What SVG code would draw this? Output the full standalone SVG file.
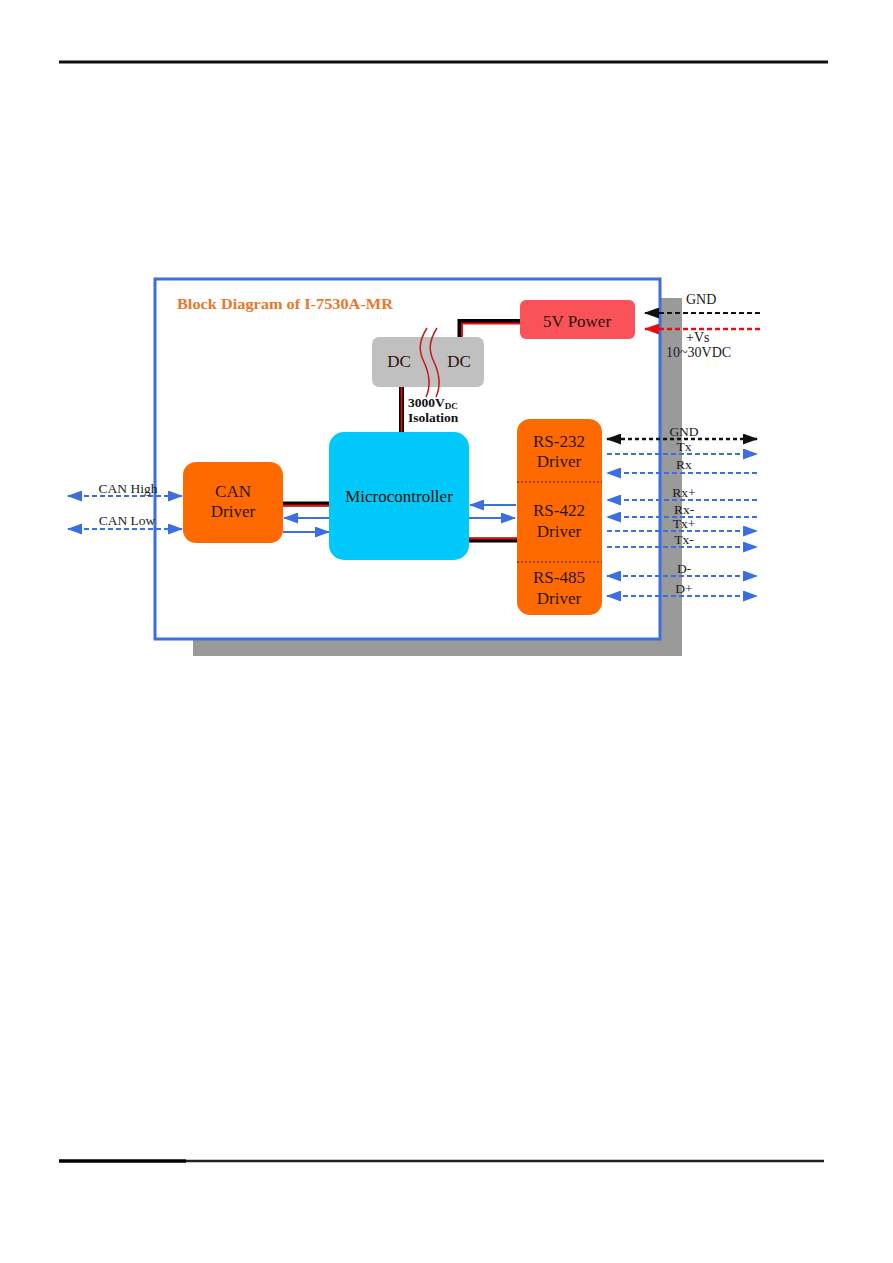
<svg xmlns="http://www.w3.org/2000/svg" width="893" height="1263" viewBox="0 0 893 1263">
<defs>
<style>
.t{font-family:"Liberation Serif","Times New Roman",serif;fill:#1a1a1a}
.lbl{font-family:"Liberation Serif","Times New Roman",serif;font-size:13.5px;fill:#1a1a1a;text-anchor:middle}
.bx{font-family:"Liberation Serif","Times New Roman",serif;font-size:17px;fill:#2a1208;text-anchor:middle}
.blue{stroke:#3b6fe0;stroke-width:2;fill:none}
.dash{stroke-dasharray:5 3}
.blk{stroke:#000;stroke-width:5;fill:none}
.red{stroke:#e01010;stroke-width:1.8;fill:none}
</style>
<marker id="ab" viewBox="0 0 15 11" refX="14" refY="5.5" markerWidth="15" markerHeight="11" markerUnits="userSpaceOnUse" orient="auto-start-reverse"><path d="M0,0 L15,5.5 L0,11 Z" fill="#3b6fe0"/></marker>
<marker id="ak" viewBox="0 0 15 11" refX="14" refY="5.5" markerWidth="15" markerHeight="11" markerUnits="userSpaceOnUse" orient="auto-start-reverse"><path d="M0,0 L15,5.5 L0,11 Z" fill="#111"/></marker>
<marker id="ar" viewBox="0 0 15 11" refX="14" refY="5.5" markerWidth="15" markerHeight="11" markerUnits="userSpaceOnUse" orient="auto-start-reverse"><path d="M0,0 L15,5.5 L0,11 Z" fill="#e01010"/></marker>
</defs>
<rect width="893" height="1263" fill="#fff"/>
<line x1="59" y1="62" x2="828" y2="62" stroke="#111" stroke-width="3"/>
<line x1="59" y1="1161" x2="186" y2="1161" stroke="#000" stroke-width="3.5"/>
<line x1="186" y1="1161" x2="824" y2="1161" stroke="#222" stroke-width="2.5"/>
<g id="frame">
<rect x="193" y="298" width="489" height="358" fill="#9a9a9a"/>
<rect x="155" y="279" width="505" height="360" fill="#fff" stroke="#3d6fd9" stroke-width="3"/>
<text x="177" y="309" font-family="Liberation Serif, serif" font-weight="bold" font-size="15" fill="#e8782a" textLength="216" lengthAdjust="spacingAndGlyphs">Block Diagram of I-7530A-MR</text>
</g>
<g id="connectors">
<line class="blk" x1="401.5" y1="387" x2="401.5" y2="433"/>
<line class="red" x1="401.5" y1="387" x2="401.5" y2="433"/>
<path class="blk" d="M460,337 V321.5 H521"/>
<path class="red" d="M462,337 V323.5 H521"/>
<line class="blk" x1="283" y1="504" x2="330" y2="504"/>
<line class="red" x1="283" y1="505.5" x2="330" y2="505.5"/>
<line class="blue" x1="330" y1="518" x2="284" y2="518" marker-end="url(#ab)"/>
<line class="blue" x1="283" y1="532" x2="329" y2="532" marker-end="url(#ab)"/>
<line class="blue" x1="516" y1="505" x2="470" y2="505" marker-end="url(#ab)"/>
<line class="blue" x1="469" y1="518" x2="515" y2="518" marker-end="url(#ab)"/>
<line class="blk" x1="469" y1="540" x2="517" y2="540"/>
<line class="red" x1="469" y1="538.5" x2="517" y2="538.5"/>
<line class="blue dash" x1="68" y1="496" x2="182" y2="496" marker-start="url(#ab)" marker-end="url(#ab)"/>
<line class="blue dash" x1="68" y1="529" x2="182" y2="529" marker-start="url(#ab)" marker-end="url(#ab)"/>
<line x1="760" y1="313" x2="645" y2="313" stroke="#111" stroke-width="2" stroke-dasharray="5 3" marker-end="url(#ak)"/>
<line x1="760" y1="329" x2="645" y2="329" stroke="#e01010" stroke-width="2.5" stroke-dasharray="5 3" marker-end="url(#ar)"/>
<line x1="607" y1="439" x2="757" y2="439" stroke="#111" stroke-width="2.5" stroke-dasharray="4 3" marker-start="url(#ak)" marker-end="url(#ak)"/>
<line class="blue dash" x1="607" y1="454" x2="757" y2="454" marker-end="url(#ab)"/>
<line class="blue dash" x1="757" y1="473" x2="607" y2="473" marker-end="url(#ab)"/>
<line class="blue dash" x1="757" y1="500" x2="607" y2="500" marker-end="url(#ab)"/>
<line class="blue dash" x1="757" y1="517" x2="607" y2="517" marker-end="url(#ab)"/>
<line class="blue dash" x1="607" y1="531" x2="757" y2="531" marker-end="url(#ab)"/>
<line class="blue dash" x1="607" y1="547" x2="757" y2="547" marker-end="url(#ab)"/>
<line class="blue dash" x1="607" y1="576" x2="757" y2="576" marker-start="url(#ab)" marker-end="url(#ab)"/>
<line class="blue dash" x1="607" y1="596" x2="757" y2="596" marker-start="url(#ab)" marker-end="url(#ab)"/>
</g>
<g id="labels">
<text class="lbl" x="128" y="493">CAN High</text>
<text class="lbl" x="127" y="525">CAN Low</text>
<text class="t" x="686" y="304" font-size="14">GND</text>
<text class="t" x="686" y="342" font-size="14">+Vs</text>
<text class="t" x="666" y="357" font-size="14">10~30VDC</text>
<text class="lbl" x="684" y="436">GND</text>
<text class="lbl" x="684" y="451">Tx</text>
<text class="lbl" x="684" y="469">Rx</text>
<text class="lbl" x="684" y="497">Rx+</text>
<text class="lbl" x="684" y="514">Rx-</text>
<text class="lbl" x="684" y="528">Tx+</text>
<text class="lbl" x="684" y="544">Tx-</text>
<text class="lbl" x="684" y="573">D-</text>
<text class="lbl" x="684" y="593">D+</text>
</g>
<g id="dcdc">
<rect x="372" y="337" width="112" height="50" rx="7" fill="#c0c0c0"/>
<text class="bx" x="399" y="367" fill="#1a1a1a">DC</text>
<text class="bx" x="459" y="367" fill="#1a1a1a">DC</text>
<path d="M427,328 C418,342 419,352 424,362 C430,375 431,386 426,397" stroke="#c81818" stroke-width="1.5" fill="none"/>
<path d="M437,328 C428,342 429,352 434,362 C440,375 441,386 436,397" stroke="#c81818" stroke-width="1.5" fill="none"/>
<text x="408" y="407" font-family="Liberation Serif, serif" font-weight="bold" font-size="13.5" fill="#111">3000V<tspan font-size="9" dy="2">DC</tspan></text>
<text x="408" y="422" font-family="Liberation Serif, serif" font-weight="bold" font-size="13.5" fill="#111">Isolation</text>
</g>
<g id="power5v">
<rect x="520" y="300" width="115" height="39" rx="6" fill="#fa5259"/>
<text class="bx" x="577" y="327">5V Power</text>
</g>
<g id="canDriver">
<rect x="183" y="462" width="100" height="81" rx="13" fill="#ff6a00"/>
<text class="bx" x="233" y="497">CAN</text>
<text class="bx" x="233" y="517">Driver</text>
</g>
<g id="micro">
<rect x="329" y="432" width="140" height="128" rx="15" fill="#00c8f8"/>
<text class="bx" x="399" y="502" fill="#0d1a33">Microcontroller</text>
</g>
<g id="rsDriver">
<rect x="517" y="419" width="85" height="196" rx="13" fill="#ff6a00"/>
<line x1="517" y1="482" x2="602" y2="482" stroke="#5a1000" stroke-width="1" stroke-dasharray="2 2"/>
<line x1="517" y1="562" x2="602" y2="562" stroke="#5a1000" stroke-width="1" stroke-dasharray="2 2"/>
<text class="bx" x="559" y="447">RS-232</text>
<text class="bx" x="559" y="467">Driver</text>
<text class="bx" x="559" y="516">RS-422</text>
<text class="bx" x="559" y="537">Driver</text>
<text class="bx" x="559" y="583">RS-485</text>
<text class="bx" x="559" y="604">Driver</text>
</g>
</svg>
